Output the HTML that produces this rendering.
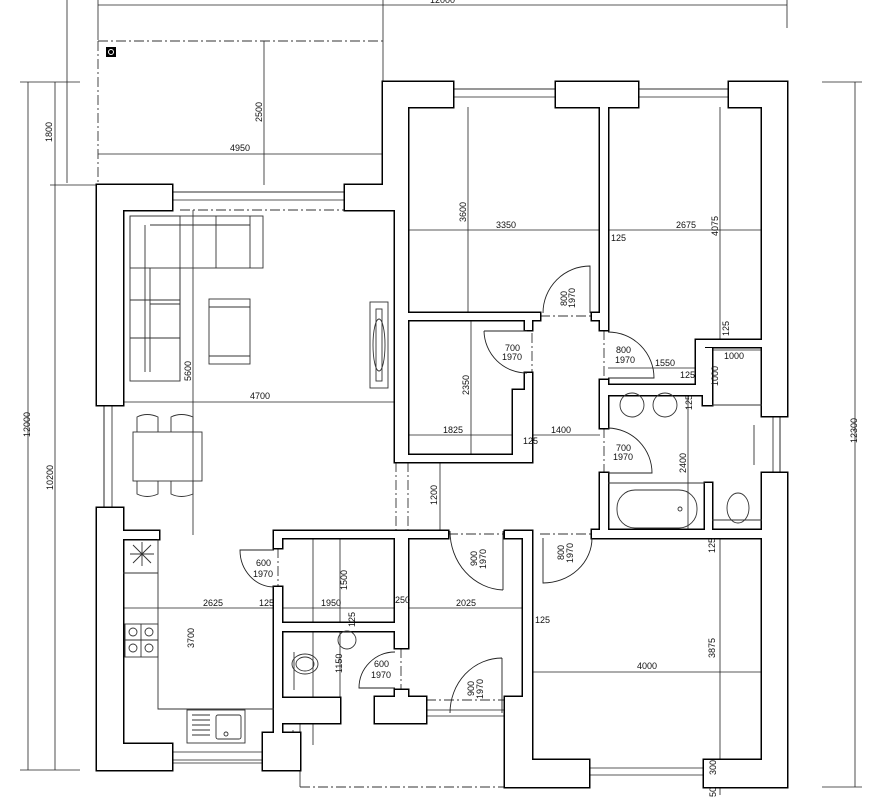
<!DOCTYPE html>
<html><head><meta charset="utf-8"><style>
html,body{margin:0;padding:0;background:#fff;width:887px;height:797px;overflow:hidden}
svg text{font-family:"Liberation Sans",sans-serif;font-size:9px;fill:#111}
</style></head><body>
<svg width="887" height="797" viewBox="0 0 887 797" xmlns="http://www.w3.org/2000/svg">
<defs>
<g id="w">
<rect x="97" y="185" width="26" height="220"/>
<rect x="97" y="508" width="26" height="262"/>
<rect x="97" y="185" width="75" height="25"/>
<rect x="345" y="185" width="63" height="25"/>
<rect x="383" y="82" width="25" height="128"/>
<rect x="395" y="210" width="13" height="252"/>
<rect x="383" y="82" width="70" height="25"/>
<rect x="556" y="82" width="82" height="25"/>
<rect x="729" y="82" width="58" height="25"/>
<rect x="762" y="82" width="25" height="334"/>
<rect x="762" y="473" width="25" height="314"/>
<rect x="704" y="760" width="83" height="27"/>
<rect x="505" y="760" width="84" height="27"/>
<rect x="505" y="697" width="27" height="90"/>
<rect x="97" y="744" width="75" height="26"/>
<rect x="263" y="733" width="37" height="37"/>
<rect x="123" y="531" width="36" height="8"/>
<rect x="600" y="107" width="8" height="223"/>
<rect x="600" y="380" width="8" height="48"/>
<rect x="600" y="473" width="8" height="65"/>
<rect x="408" y="313" width="132" height="7"/>
<rect x="525" y="313" width="7" height="17"/>
<rect x="592" y="313" width="16" height="7"/>
<rect x="525" y="373" width="7" height="89"/>
<rect x="513" y="390" width="19" height="72"/>
<rect x="395" y="455" width="137" height="7"/>
<rect x="608" y="385" width="97" height="10"/>
<rect x="696" y="340" width="66" height="7"/>
<rect x="696" y="340" width="9" height="55"/>
<rect x="703" y="348" width="9" height="57"/>
<rect x="705" y="483" width="7" height="55"/>
<rect x="592" y="530" width="170" height="8"/>
<rect x="274" y="531" width="174" height="7"/>
<rect x="505" y="531" width="27" height="7"/>
<rect x="523" y="531" width="9" height="166"/>
<rect x="274" y="531" width="8" height="17"/>
<rect x="274" y="587" width="8" height="146"/>
<rect x="282" y="623" width="113" height="8"/>
<rect x="395" y="538" width="13" height="110"/>
<rect x="395" y="690" width="13" height="7"/>
<rect x="375" y="697" width="51" height="26"/>
<rect x="274" y="698" width="66" height="25"/>
</g>
</defs>
<g fill="none" stroke="#222" stroke-width="0.8">
<line x1="98" y1="5" x2="787" y2="5"/><line x1="787" y1="0" x2="787" y2="28"/><line x1="98" y1="0" x2="98" y2="40"/>
<line x1="383" y1="0" x2="383" y2="82"/>
<line x1="67" y1="0" x2="67" y2="183"/>
<line x1="28" y1="82" x2="28" y2="770"/><line x1="20" y1="82" x2="80" y2="82"/><line x1="20" y1="770" x2="80" y2="770"/>
<line x1="55" y1="82" x2="55" y2="770"/><line x1="50" y1="185" x2="97" y2="185"/>
<line x1="855" y1="82" x2="855" y2="787"/><line x1="822" y1="82" x2="862" y2="82"/><line x1="822" y1="787" x2="862" y2="787"/>
<line x1="98" y1="154" x2="383" y2="154"/><line x1="264" y1="41" x2="264" y2="185"/>
<line x1="123" y1="402" x2="395" y2="402"/><line x1="193" y1="210" x2="193" y2="535"/>
<line x1="408" y1="230" x2="762" y2="230"/><line x1="468" y1="107" x2="468" y2="313"/>
<line x1="720" y1="107" x2="720" y2="347"/><line x1="720" y1="530" x2="720" y2="795"/>
<line x1="408" y1="435" x2="600" y2="435"/><line x1="471" y1="320" x2="471" y2="455"/>
<line x1="123" y1="608" x2="532" y2="608"/><line x1="313" y1="530" x2="313" y2="745"/>
<line x1="340" y1="538" x2="340" y2="700"/><line x1="532" y1="672" x2="762" y2="672"/>
<line x1="608" y1="368" x2="703" y2="368"/><line x1="688" y1="395" x2="688" y2="538"/>
<line x1="712" y1="350" x2="762" y2="350"/><line x1="712" y1="350" x2="712" y2="405"/>
<line x1="440" y1="462" x2="440" y2="531"/>
<path d="M104,763 V192 H390 V89 H780 V780 H704 M589,780 H512 V723"/>
<path d="M104,763 H293 V730"/>
<path d="M172,192 H345 M172,200 H345 M453,89 H556 M453,97 H556 M638,89 H729 M638,97 H729 M773,416 V473 M780,416 V473 M104,405 V508 M112,405 V508 M172,752 H263 M172,760 H263 M589,768 H704 M589,775 H704"/>
<path d="M300,723 V787 M426,710 H505 M426,716 H505"/>
</g>
<g fill="none" stroke="#333" stroke-width="0.9" stroke-dasharray="10,3,2,3">
<path d="M98,41 H383 M98,41 V185"/>
<path d="M180,210 H345"/>
<path d="M300,787 H505"/>
<path d="M396,462 V531 M408,462 V531"/>
<path d="M540,316 H592 M532,333 V373 M604,330 V380 M604,428 V473 M278,548 V587 M401,648 V690 M448,534 H505 M540,534 H592 M426,700 H505"/>
</g>
<rect x="106" y="47" width="10" height="10" fill="#000"/><circle cx="111" cy="52" r="2.5" fill="none" stroke="#fff" stroke-width="1"/>
<use href="#w" fill="#000" stroke="#000" stroke-width="3"/>
<use href="#w" fill="#fff" stroke="none"/>
<g fill="none" stroke="#222" stroke-width="0.9">
<path d="M590,313 V266 A47,47 0 0 0 543,313"/>
<path d="M484,331 H527 M484,331 A43,43 0 0 0 527,373"/>
<path d="M608,332 A46,46 0 0 1 654,378 H608"/>
<path d="M608,428 A45,45 0 0 1 652,473 H608"/>
<path d="M274,550 H240 A34,37 0 0 0 274,587"/>
<path d="M395,652 A36,36 0 0 0 359,688 H395"/>
<path d="M503,531 V590 M450,531 A55,59 0 0 0 503,590"/>
<path d="M543,538 V583 A49,45 0 0 0 592,538"/>
<path d="M502,658 V713 M502,658 A52,55 0 0 0 450,713"/>
</g>
<g fill="none" stroke="#333" stroke-width="0.9">
<rect x="130" y="216" width="133" height="52"/><rect x="130" y="216" width="50" height="165"/>
<line x1="145" y1="225" x2="145" y2="372"/><line x1="150" y1="225" x2="250" y2="225"/>
<line x1="150" y1="268" x2="150" y2="372"/><line x1="180" y1="268" x2="180" y2="381"/>
<line x1="130" y1="300" x2="180" y2="300"/><line x1="150" y1="304" x2="180" y2="304"/><line x1="130" y1="338" x2="180" y2="338"/>
<line x1="216" y1="216" x2="216" y2="268"/><line x1="250" y1="216" x2="250" y2="268"/>
<rect x="209" y="299" width="41" height="65"/><line x1="209" y1="307" x2="250" y2="307"/><line x1="209" y1="356" x2="250" y2="356"/>
<rect x="370" y="302" width="18" height="86"/><rect x="376" y="309" width="6" height="72"/><ellipse cx="379" cy="345" rx="6" ry="26"/>
<rect x="133" y="432" width="69" height="49"/>
<path d="M137,432 V417 Q147,412 158,417 V432 M171,432 V417 Q181,412 193,417 V432 M137,481 V494 Q147,499 158,494 V481 M171,481 V494 Q181,499 193,494 V481"/>
<path d="M123,573 H158 M158,539 V709 H274"/>
<rect x="125" y="624" width="33" height="33"/><line x1="141" y1="624" x2="141" y2="657"/><line x1="125" y1="640" x2="158" y2="640"/>
<circle cx="133" cy="632" r="4"/><circle cx="149" cy="632" r="4"/><circle cx="133" cy="648" r="4"/><circle cx="149" cy="648" r="4"/>
<path d="M133,545 L151,563 M151,545 L133,563 M142,542 V566 M130,554 H154"/>
<rect x="187" y="710" width="58" height="33"/><rect x="216" y="715" width="25" height="24" rx="2"/><circle cx="226" cy="734" r="2"/>
<path d="M192,715 H210 M192,720 H210 M192,725 H210 M192,730 H210 M192,735 H210"/>
<ellipse cx="305" cy="664" rx="13" ry="10"/><ellipse cx="305" cy="664" rx="9" ry="7"/><line x1="294" y1="652" x2="294" y2="690"/>
<ellipse cx="347" cy="640" rx="9" ry="9"/>
<ellipse cx="632" cy="405" rx="12" ry="12"/><ellipse cx="665" cy="405" rx="12" ry="12"/>
<rect x="617" y="490" width="80" height="38" rx="18"/><circle cx="680" cy="509" r="2"/>
<line x1="608" y1="483" x2="705" y2="483"/>
<ellipse cx="738" cy="508" rx="11" ry="15"/><line x1="712" y1="520" x2="762" y2="520"/>
<line x1="754" y1="425" x2="754" y2="465"/>
<line x1="712" y1="405" x2="762" y2="405"/>
</g>
<text x="430" y="3">12000</text>
<text x="230" y="151">4950</text>
<text transform="translate(262,122) rotate(-90)">2500</text>
<text transform="translate(52,142) rotate(-90)">1800</text>
<text transform="translate(30,437) rotate(-90)">12000</text>
<text transform="translate(53,490) rotate(-90)">10200</text>
<text transform="translate(857,443) rotate(-90)">12300</text>
<text transform="translate(466,222) rotate(-90)">3600</text>
<text x="496" y="228">3350</text>
<text x="676" y="228">2675</text>
<text transform="translate(718,236) rotate(-90)">4075</text>
<text x="611" y="241">125</text>
<text transform="translate(729,336) rotate(-90)">125</text>
<text transform="translate(191,381) rotate(-90)">5600</text>
<text x="250" y="399">4700</text>
<text transform="translate(469,395) rotate(-90)">2350</text>
<text x="443" y="433">1825</text>
<text x="523" y="444">125</text>
<text x="551" y="433">1400</text>
<text x="655" y="366">1550</text>
<text x="680" y="378">125</text>
<text x="724" y="359">1000</text>
<text transform="translate(718,386) rotate(-90)">1000</text>
<text transform="translate(692,410) rotate(-90)">125</text>
<text transform="translate(686,473) rotate(-90)">2400</text>
<text transform="translate(437,505) rotate(-90)">1200</text>
<text x="203" y="606">2625</text>
<text x="259" y="606">125</text>
<text x="321" y="606">1950</text>
<text transform="translate(347,590) rotate(-90)">1500</text>
<text x="395" y="603">250</text>
<text x="456" y="606">2025</text>
<text transform="translate(355,627) rotate(-90)">125</text>
<text x="535" y="623">125</text>
<text transform="translate(194,648) rotate(-90)">3700</text>
<text transform="translate(342,673) rotate(-90)">1150</text>
<text x="637" y="669">4000</text>
<text transform="translate(715,658) rotate(-90)">3875</text>
<text transform="translate(715,553) rotate(-90)">125</text>
<text transform="translate(716,775) rotate(-90)">300</text>
<text transform="translate(716,797) rotate(-90)">50</text>
<text transform="translate(567,306) rotate(-90)">800</text>
<text transform="translate(575,308) rotate(-90)">1970</text>
<text x="505" y="351">700</text><text x="502" y="360">1970</text>
<text x="616" y="353">800</text><text x="615" y="363">1970</text>
<text x="616" y="451">700</text><text x="613" y="460">1970</text>
<text x="256" y="566">600</text><text x="253" y="577">1970</text>
<text x="374" y="667">600</text><text x="371" y="678">1970</text>
<text transform="translate(477,566) rotate(-90)">900</text>
<text transform="translate(486,569) rotate(-90)">1970</text>
<text transform="translate(564,560) rotate(-90)">800</text>
<text transform="translate(573,563) rotate(-90)">1970</text>
<text transform="translate(474,696) rotate(-90)">900</text>
<text transform="translate(483,699) rotate(-90)">1970</text>
</svg>
</body></html>
